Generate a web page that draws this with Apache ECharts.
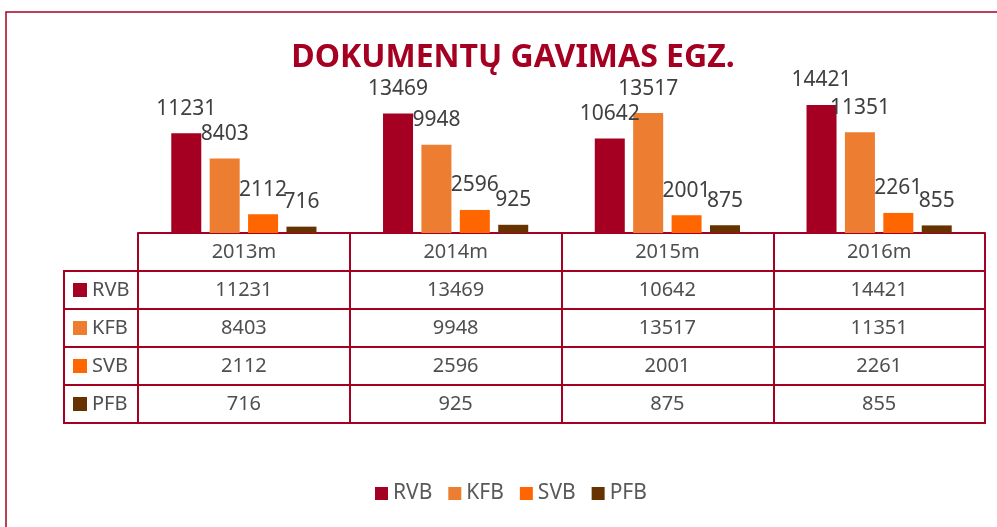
<!DOCTYPE html>
<html>
<head>
<meta charset="utf-8">
<script src="https://cdn.jsdelivr.net/npm/echarts@6/dist/echarts.min.js"></script>
<style>
  html, body { margin: 0; padding: 0; background: #fff; }
  #chart { width: 997px; height: 527px; }
</style>
</head>
<body>
<div id="chart"></div>
<script>
  // data
  const years = ['2013m', '2014m', '2015m', '2016m']
  const seriesNames = ['RVB', 'KFB', 'SVB', 'PFB']
  const rvb = [11231, 13469, 10642, 14421]
  const kfb = [8403, 9948, 13517, 11351]
  const svb = [2112, 2596, 2001, 2261]
  const pfb = [716, 925, 875, 855]

  const colors = ['#A50021', '#ED7D31', '#FF6600', '#663300']
  const lineColor = '#A50021'
  const textColor = '#4f4f4f'
  const font = '"Noto Sans", "Open Sans", sans-serif'

  const allValues = [rvb, kfb, svb, pfb]

  // table cells: [yearIndex, rowIndex, value]
  let cells = []
  for (let r = 0; r < allValues.length; r++) {
    for (let c = 0; c < years.length; c++) {
      cells.push([c, r, allValues[r][c]])
    }
  }

  let rich = {}
  colors.forEach((c, i) => {
    rich['s' + i] = { backgroundColor: c, width: 14, height: 14 }
    rich['t' + i] = { color: textColor, fontSize: 20, fontFamily: font, padding: [0, 0, 0, 5] }
  })

  const barSeries = seriesNames.map((name, i) => ({
    name: name,
    type: 'bar',
    xAxisIndex: 0,
    yAxisIndex: 0,
    data: allValues[i],
    barWidth: 30,
    barGap: '28%',
    itemStyle: { color: colors[i] },
    label: {
      show: true,
      position: 'top',
      distance: 14,
      color: '#404040',
      fontSize: 21,
      fontFamily: font
    }
  }))

  const lineStyle = { color: lineColor, width: 2 }

  let myChart = echarts.init(document.getElementById('chart'))
  let option = {
    animation: false,
    backgroundColor: '#fff',
    color: colors,
    title: {
      text: 'DOKUMENTŲ GAVIMAS EGZ.',
      left: 508,
      textAlign: 'center',
      top: 37,
      textStyle: {
        color: lineColor,
        fontSize: 32,
        fontWeight: 'bold',
        fontFamily: font
      }
    },
    legend: {
      data: seriesNames,
      bottom: 18,
      left: 370,
      itemWidth: 13,
      itemHeight: 13,
      itemGap: 16,
      icon: 'rect',
      textStyle: { color: '#595959', fontSize: 21, fontFamily: font }
    },
    graphic: [{
      type: 'rect',
      shape: { x: 6, y: 12, width: 1000, height: 530 },
      style: { fill: null, stroke: lineColor, lineWidth: 1.5 },
      silent: true
    }],
    grid: [
      { left: 138, right: 12, top: 91, bottom: 294 },
      { left: 138, right: 12, top: 271, height: 152, show: true, borderColor: lineColor, borderWidth: 2 },
      { left: 64, width: 74, top: 271, height: 152, show: true, borderColor: lineColor, borderWidth: 2 }
    ],
    xAxis: [
      {
        type: 'category',
        gridIndex: 0,
        data: years,
        axisLine: { show: true, lineStyle: lineStyle },
        axisTick: { show: false },
        axisLabel: { show: false }
      },
      {
        type: 'category',
        gridIndex: 1,
        position: 'top',
        data: years,
        axisLine: { show: true, lineStyle: lineStyle },
        axisTick: { show: true, length: 38, lineStyle: lineStyle },
        axisLabel: { margin: 9, color: textColor, fontSize: 20, fontFamily: font },
        splitLine: { show: true, lineStyle: lineStyle }
      },
      {
        type: 'category',
        gridIndex: 2,
        data: [''],
        show: false
      }
    ],
    yAxis: [
      {
        type: 'value',
        gridIndex: 0,
        min: 0,
        max: 16000,
        show: false
      },
      {
        type: 'category',
        gridIndex: 1,
        inverse: true,
        data: seriesNames,
        axisLine: { show: false },
        axisTick: { show: false },
        axisLabel: { show: false },
        splitLine: { show: true, lineStyle: lineStyle }
      },
      {
        type: 'category',
        gridIndex: 2,
        inverse: true,
        data: seriesNames,
        axisLine: { show: true, lineStyle: lineStyle },
        axisTick: { show: false },
        splitLine: { show: true, lineStyle: lineStyle },
        axisLabel: {
          inside: true,
          align: 'left',
          margin: 9,
          formatter: (value, index) => '{s' + index + '|}{t' + index + '|' + value + '}',
          rich: rich
        }
      }
    ],
    series: [
      ...barSeries,
      {
        type: 'scatter',
        xAxisIndex: 1,
        yAxisIndex: 1,
        data: cells,
        symbolSize: 1,
        itemStyle: { color: 'rgba(0,0,0,0)' },
        label: {
          show: true,
          position: 'inside',
          formatter: (p) => p.value[2],
          color: textColor,
          opacity: 1,
          fontSize: 20,
          fontFamily: font
        },
        silent: true
      }
    ]
  }
  myChart.setOption(option)
</script>
</body>
</html>
